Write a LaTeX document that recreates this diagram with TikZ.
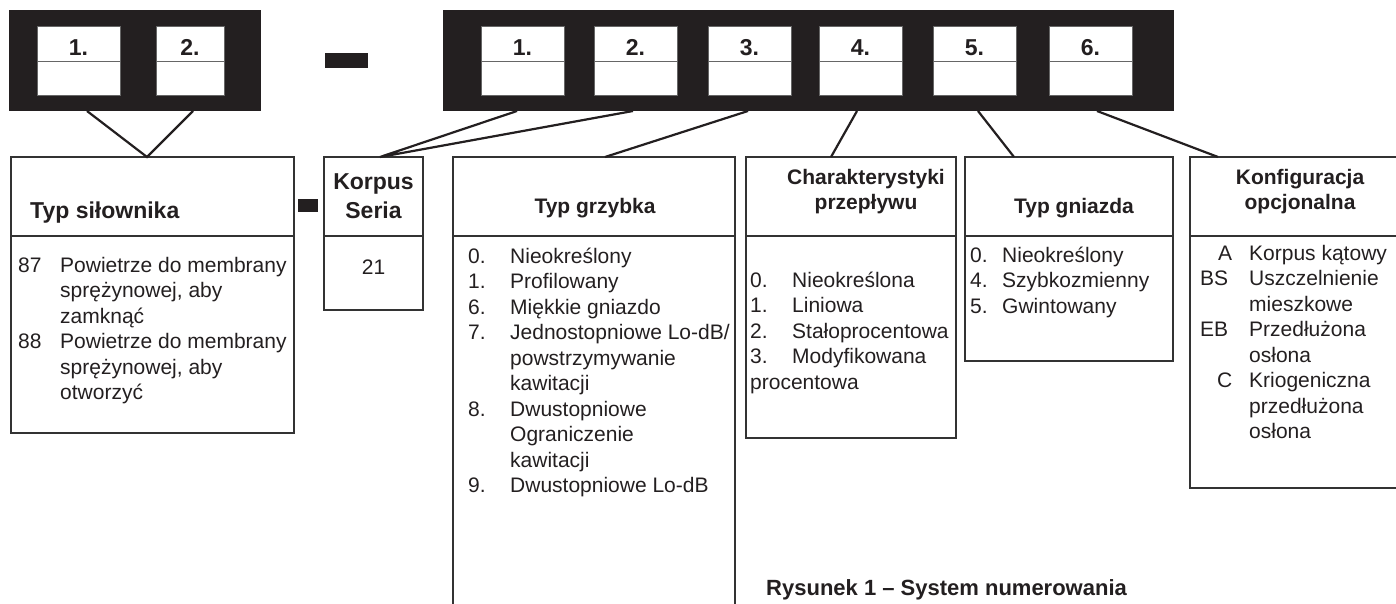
\documentclass[tikz,border=0pt]{standalone}
\usepackage{fontspec}
\setmainfont{Liberation Sans}
\usetikzlibrary{calc}
\definecolor{ink}{HTML}{231F20}

\begin{document}
\begin{tikzpicture}[x=1pt, y=-1pt, text=ink,
    bar/.style={fill=ink, anchor=north west, inner sep=0pt, outer sep=0pt, minimum height=101pt},
    slot/.style={fill=white, draw=black!60, line width=1pt, anchor=north west, inner sep=0pt, outer sep=0pt, minimum height=69pt},
    rule/.style={draw=black!80, line width=1.2pt},
    box/.style={rule, anchor=north west, inner sep=0pt, outer sep=0pt},
    link/.style={draw=ink, line width=2.2pt},
    num/.style={font=\fontsize{23}{27}\selectfont\bfseries, anchor=base, inner sep=0pt},
    head/.style={font=\fontsize{21}{25}\selectfont\bfseries, anchor=base, inner sep=0pt},
    bighead/.style={font=\fontsize{23}{28}\selectfont\bfseries, anchor=base, inner sep=0pt},
    txt/.style={font=\fontsize{21}{25}\selectfont, anchor=base west, inner sep=0pt}]
  \useasboundingbox (0,0) rectangle (1396,604);
  % code bars
  \node[bar, minimum width=252pt] (barL) at (9,10) {};
  \node[bar, minimum width=731pt] (barR) at (443,10) {};
  \foreach \n/\x/\w/\t in {sl1/37/83/1., sl2/156/68/2.} {
    \node[slot, minimum width=\w pt] (\n) at (\x,27) {};
    \draw[black!60, line width=1pt] (\n.west) -- (\n.east);
    \node[num] (\n-t) at ($(\n.north)+(0,29)$) {\t};
  }
  \foreach \i/\x in {1/481, 2/594, 3/708, 4/819, 5/933, 6/1049} {
    \node[slot, minimum width=83pt] (sk\i) at (\x,27) {};
    \draw[black!60, line width=1pt] (sk\i.west) -- (sk\i.east);
    \node[num] (sk\i-t) at ($(sk\i.north)+(0,29)$) {\i.};
  }
  \fill[ink] (325,53) rectangle (368,68);
  \fill[ink] (298,199) rectangle (318,212);
  % boxes
  \node[box, minimum width=283pt, minimum height=276pt] (act) at (11,157) {};
  \node[box, minimum width=99pt, minimum height=153pt] (korpus) at (324,157) {};
  \node[box, draw=none, minimum width=282pt, minimum height=447pt] (plug) at (453,157) {};
  \node[box, minimum width=210pt, minimum height=281pt] (flow) at (746,157) {};
  \node[box, minimum width=208pt, minimum height=204pt] (seat) at (965,157) {};
  \node[box, draw=none, minimum width=206pt, minimum height=331pt] (opt) at (1190,157) {};
  \draw[rule] (plug.south west) |- (plug.north east) -- (plug.south east);
  \draw[rule] (opt.north east) -| (opt.south west) -- (opt.south east);
  \foreach \b in {act, korpus, plug, flow, seat, opt}
    \draw[rule] ($(\b.north west)+(0,79)$) -- ($(\b.north east)+(0,79)$);
  % connectors
  \draw[link] ($(sl1 |- barL.south)+(8.5,0)$) -- ($(act.north)+(-5.5,0)$) -- ($(sl2 |- barL.south)+(3,0)$);
  \draw[link] ($(sk1 |- barR.south)+(-5.5,0)$) -- ($(korpus.north)+(6.5,0)$) -- ($(sk2 |- barR.south)+(-2.5,0)$);
  \draw[link] ($(sk3 |- barR.south)+(-1.5,0)$) -- ($(plug.north)+(11,0)$);
  \draw[link] ($(sk4 |- barR.south)+(-3.5,0)$) -- ($(flow.north)+(-20,0)$);
  \draw[link] ($(sk5 |- barR.south)+(3.5,0)$) -- ($(seat.north)+(-55,0)$);
  \draw[link] ($(sk6 |- barR.south)+(6.5,0)$) -- ($(opt.north)+(-75,0)$);
  % headers
  \node[bighead, anchor=base west] (act-h) at (30,218) {Typ siłownika};
  \node[bighead] (korpus-h1) at (373.5,189.5) {Korpus};
  \node[bighead] (korpus-h2) at (373.5,218) {Seria};
  \node[txt, anchor=base] (korpus-v) at (373.5,274) {21};
  \node[head] (plug-h) at (595,213) {Typ grzybka};
  \node[head] (flow-h1) at (866,184) {Charakterystyki};
  \node[head] (flow-h2) at (866,209) {przepływu};
  \node[head] (seat-h) at (1074,213) {Typ gniazda};
  \node[head] (opt-h1) at (1300,184) {Konfiguracja};
  \node[head] (opt-h2) at (1300,209) {opcjonalna};
  % item lists
  \foreach \c/\t [count=\k] in {87/Powietrze do membrany, /{sprężynowej, aby}, /zamknąć,
      88/Powietrze do membrany, /{sprężynowej, aby}, /otworzyć} {
    \node[txt] (act-c\k) at (18,{272+25.5*(\k-1)}) {\c};
    \node[txt] (act-t\k) at (60,{272+25.5*(\k-1)}) {\t};
  }
  \foreach \c/\t [count=\k] in {0./Nieokreślony, 1./Profilowany, 6./Miękkie gniazdo,
      7./{Jednostopniowe Lo-dB/}, /powstrzymywanie, /kawitacji, 8./Dwustopniowe,
      /Ograniczenie, /kawitacji, 9./Dwustopniowe Lo-dB} {
    \node[txt] (plug-c\k) at (468,{263.3+25.5*(\k-1)}) {\c};
    \node[txt] (plug-t\k) at (510,{263.3+25.5*(\k-1)}) {\t};
  }
  \foreach \c/\t [count=\k] in {0./Nieokreślona, 1./Liniowa, 2./Stałoprocentowa,
      3./Modyfikowana, procentowa/{}} {
    \node[txt] (flow-c\k) at (750,{287+25.5*(\k-1)}) {\c};
    \node[txt] (flow-t\k) at (792,{287+25.5*(\k-1)}) {\t};
  }
  \foreach \c/\t [count=\k] in {0./Nieokreślony, 4./Szybkozmienny, 5./Gwintowany} {
    \node[txt] (seat-c\k) at (970,{262+25.5*(\k-1)}) {\c};
    \node[txt] (seat-t\k) at (1002,{262+25.5*(\k-1)}) {\t};
  }
  \foreach \x/\c/\t [count=\k] in {1218/A/Korpus kątowy, 1200/BS/Uszczelnienie,
      1200//mieszkowe, 1200/EB/Przedłużona, 1200//osłona, 1217/C/Kriogeniczna,
      1200//przedłużona, 1200//osłona} {
    \node[txt] (opt-c\k) at (\x,{260+25.5*(\k-1)}) {\c};
    \node[txt] (opt-t\k) at (1249,{260+25.5*(\k-1)}) {\t};
  }
  % caption
  \node[font=\fontsize{22}{26}\selectfont\bfseries, anchor=base west, inner sep=0pt] (caption)
    at (766,595) {Rysunek 1 – System numerowania};
\end{tikzpicture}
\end{document}
